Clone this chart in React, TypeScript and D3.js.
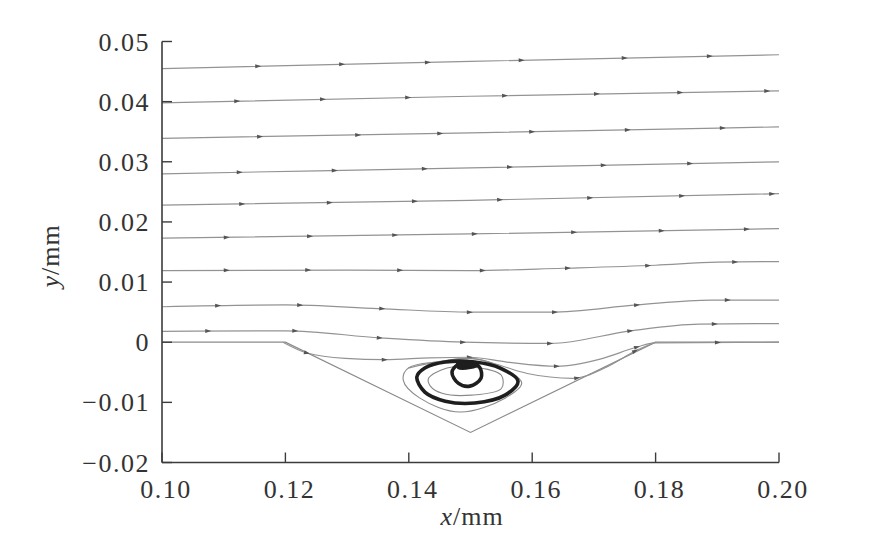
import React, { useEffect, useRef } from "react";
import * as d3 from "d3";

// axis ticks
const xTicks = [0.1, 0.12, 0.14, 0.16, 0.18, 0.2];
const yTicks = [0.05, 0.04, 0.03, 0.02, 0.01, 0, -0.01, -0.02];

// groove wall
const wall: [number, number][] = [[0.10, 0], [0.12, 0], [0.15, -0.015], [0.18, 0], [0.20, 0]];

// streamlines above the groove
const line1: [number, number][] = [[0.10, 0.0455], [0.15, 0.0467], [0.20, 0.0478]];
const line2: [number, number][] = [[0.10, 0.0398], [0.15, 0.0409], [0.20, 0.0418]];
const line3: [number, number][] = [[0.10, 0.0339], [0.15, 0.0348], [0.20, 0.0358]];
const line4: [number, number][] = [[0.10, 0.0280], [0.15, 0.0290], [0.20, 0.0300]];
const line5: [number, number][] = [[0.10, 0.0228], [0.15, 0.0236], [0.20, 0.0247]];
const line6: [number, number][] = [[0.10, 0.0173], [0.15, 0.0180], [0.20, 0.0189]];
const line7: [number, number][] = [[0.10, 0.0119], [0.13, 0.0120], [0.15, 0.0119], [0.165, 0.0123], [0.18, 0.0128], [0.19, 0.0133], [0.20, 0.0134]];
const line8: [number, number][] = [[0.10, 0.0059], [0.12, 0.0062], [0.135, 0.0056], [0.15, 0.0050], [0.163, 0.0050], [0.177, 0.0062], [0.189, 0.0070], [0.20, 0.0070]];
const line9: [number, number][] = [[0.10, 0.0018], [0.12, 0.0019], [0.1355, 0.0007], [0.1488, 0.0], [0.163, -0.0002], [0.176, 0.0019], [0.187, 0.0030], [0.20, 0.0031]];
const line10: [number, number][] = [[0.1196, 0], [0.1235, -0.0018], [0.1297, -0.0027], [0.1361, -0.0029], [0.1434, -0.0026], [0.1499, -0.0025], [0.1559, -0.0033], [0.164, -0.0040], [0.171, -0.0028], [0.177, -0.0008], [0.1798, -0.0001], [0.20, 0]];
const line11: [number, number][] = [[0.1399, -0.0043], [0.1451, -0.0032], [0.1499, -0.0027], [0.1536, -0.0035], [0.1592, -0.0052], [0.1666, -0.0060], [0.1721, -0.0041], [0.177, -0.0013], [0.18, 0]];

// arrow positions (x) on each streamline
const arrows1 = [0.1156, 0.1292, 0.1431, 0.1583, 0.175, 0.1888];
const arrows2 = [0.1122, 0.1261, 0.1399, 0.1556, 0.1705, 0.184, 0.1981];
const arrows3 = [0.1159, 0.1318, 0.1451, 0.16, 0.1755, 0.1909];
const arrows4 = [0.1126, 0.128, 0.1426, 0.1564, 0.1716, 0.1856];
const arrows5 = [0.113, 0.1272, 0.141, 0.1548, 0.1694, 0.1843, 0.1989];
const arrows6 = [0.1105, 0.124, 0.1378, 0.1507, 0.1668, 0.181, 0.1948];
const arrows7 = [0.1105, 0.1237, 0.1386, 0.152, 0.1658, 0.1788, 0.1929];
const arrows8 = [0.1091, 0.1224, 0.1357, 0.1499, 0.1637, 0.177, 0.1917];
const arrows9 = [0.1075, 0.1216, 0.1353, 0.1488, 0.1629, 0.1759, 0.1896];
const arrows10 = [0.1235, 0.1361, 0.1499, 0.164, 0.177, 0.1901];
const arrows11 = [0.1673, 0.1767];

// vortex loops in the groove
const loopOuterThin: [number, number][] = [[0.1399, -0.0043], [0.1451, -0.0032], [0.1499, -0.0027], [0.1536, -0.0035], [0.1583, -0.0068], [0.1556, -0.0093], [0.1483, -0.0116], [0.1418, -0.0093], [0.1391, -0.0063]];
const loopOuterThick: [number, number][] = [[0.1413, -0.0058], [0.1426, -0.0043], [0.1459, -0.0033], [0.1507, -0.0033], [0.1548, -0.0043], [0.1577, -0.0065], [0.1556, -0.0088], [0.1507, -0.0101], [0.1459, -0.0098], [0.1426, -0.0083]];
const loopMidThin: [number, number][] = [[0.1432, -0.0060], [0.1462, -0.0043], [0.1502, -0.0041], [0.1550, -0.0055], [0.1550, -0.0077], [0.1502, -0.0088], [0.1454, -0.0085], [0.1435, -0.0073]];
const loopInnerThick: [number, number][] = [[0.147, -0.005], [0.148, -0.0037], [0.1499, -0.0033], [0.1515, -0.0042], [0.1517, -0.006], [0.1499, -0.0073], [0.148, -0.0068]];
const loopCore: [number, number][] = [[0.1478, -0.0036], [0.1500, -0.0033], [0.1511, -0.0039], [0.1500, -0.0043], [0.1480, -0.0043]];

const streamlines = [line1, line2, line3, line4, line5, line6, line7, line8, line9, line10, line11];
const arrowSets = [arrows1, arrows2, arrows3, arrows4, arrows5, arrows6, arrows7, arrows8, arrows9, arrows10, arrows11];

const W = 878, H = 552;
const left = 162, right = 779, top = 41.5, bottom = 462.5;
const FONT = "'Liberation Serif', 'Times New Roman', serif";

export default function App() {
  const ref = useRef<SVGSVGElement>(null);

  useEffect(() => {
    const svg = d3.select(ref.current);
    svg.selectAll("*").remove();

    const x = d3.scaleLinear().domain([0.1, 0.2]).range([left, right]);
    const y = d3.scaleLinear().domain([-0.02, 0.05]).range([bottom, top]);

    const lineGen = d3.line<[number, number]>().x(d => x(d[0])).y(d => y(d[1])).curve(d3.curveMonotoneX);
    const loopGen = d3.line<[number, number]>().x(d => x(d[0])).y(d => y(d[1])).curve(d3.curveCatmullRomClosed.alpha(0.5));

    // wall
    svg.append("path")
      .attr("d", d3.line<[number, number]>().x(d => x(d[0])).y(d => y(d[1]))(wall))
      .attr("fill", "none").attr("stroke", "#8a8a8a").attr("stroke-width", 1.2);

    // streamlines + arrows
    streamlines.forEach((pts, i) => {
      const p = svg.append("path")
        .attr("d", lineGen(pts))
        .attr("fill", "none").attr("stroke", "#939393").attr("stroke-width", 1.2);
      const node = p.node() as SVGPathElement;
      const L = node.getTotalLength();
      arrowSets[i].forEach(ax => {
        const tx = x(ax);
        let lo = 0, hi = L;
        for (let k = 0; k < 30; k++) {
          const mid = (lo + hi) / 2;
          if (node.getPointAtLength(mid).x < tx) lo = mid; else hi = mid;
        }
        const t = (lo + hi) / 2;
        const a = node.getPointAtLength(Math.max(0, t - 1));
        const b = node.getPointAtLength(Math.min(L, t + 1));
        const pt = node.getPointAtLength(t);
        const ang = Math.atan2(b.y - a.y, b.x - a.x) * 180 / Math.PI;
        svg.append("path")
          .attr("d", "M3,0L-3,-2L-3,2Z")
          .attr("transform", `translate(${pt.x},${pt.y}) rotate(${ang})`)
          .attr("fill", "#555");
      });
    });

    // vortex
    [loopOuterThin, loopMidThin].forEach(pts => {
      svg.append("path").attr("d", loopGen(pts))
        .attr("fill", "none").attr("stroke", "#8a8a8a").attr("stroke-width", 1.1);
    });
    [loopOuterThick, loopInnerThick].forEach(pts => {
      svg.append("path").attr("d", loopGen(pts))
        .attr("fill", "none").attr("stroke", "#1e1e1e").attr("stroke-width", 3.6);
    });
    svg.append("path").attr("d", loopGen(loopCore))
      .attr("fill", "#1e1e1e").attr("stroke", "#1e1e1e").attr("stroke-width", 2);

    // axes
    const axisColor = "#3c3c3c";
    svg.append("line").attr("x1", left).attr("x2", left).attr("y1", top).attr("y2", bottom)
      .attr("stroke", axisColor).attr("stroke-width", 1.6);
    svg.append("line").attr("x1", left).attr("x2", right).attr("y1", bottom).attr("y2", bottom)
      .attr("stroke", axisColor).attr("stroke-width", 1.6);

    yTicks.forEach(v => {
      svg.append("line").attr("x1", left).attr("x2", left + 10).attr("y1", y(v)).attr("y2", y(v))
        .attr("stroke", axisColor).attr("stroke-width", 1.4);
      svg.append("text")
        .attr("x", 150).attr("y", y(v)).attr("dy", "0.35em")
        .attr("text-anchor", "end")
        .style("font-family", FONT).style("font-size", "26px").style("letter-spacing", "1.5px")
        .attr("fill", "#333")
        .text(v < 0 ? "\u2212" + Math.abs(v).toFixed(2) : v === 0 ? "0" : v.toFixed(2));
    });

    xTicks.forEach(v => {
      svg.append("line").attr("x1", x(v)).attr("x2", x(v)).attr("y1", bottom).attr("y2", bottom - 10)
        .attr("stroke", axisColor).attr("stroke-width", 1.4);
      svg.append("text")
        .attr("x", x(v) + 4).attr("y", 498)
        .attr("text-anchor", "middle")
        .style("font-family", FONT).style("font-size", "26px").style("letter-spacing", "1.5px")
        .attr("fill", "#333")
        .text(v.toFixed(2));
    });

    // axis titles
    const xt = svg.append("text").attr("x", 472).attr("y", 525).attr("text-anchor", "middle")
      .style("font-family", FONT).style("font-size", "26px").style("letter-spacing", "1px").attr("fill", "#333");
    xt.append("tspan").style("font-style", "italic").text("x");
    xt.append("tspan").text("/mm");

    const yt = svg.append("text").attr("transform", "translate(59,256) rotate(-90)").attr("text-anchor", "middle")
      .style("font-family", FONT).style("font-size", "26px").style("letter-spacing", "1px").attr("fill", "#333");
    yt.append("tspan").style("font-style", "italic").text("y");
    yt.append("tspan").text("/mm");
  }, []);

  return (
    <svg ref={ref} width={W} height={H}
      style={{ position: "absolute", left: 0, top: 0, background: "#fff" }} />
  );
}
